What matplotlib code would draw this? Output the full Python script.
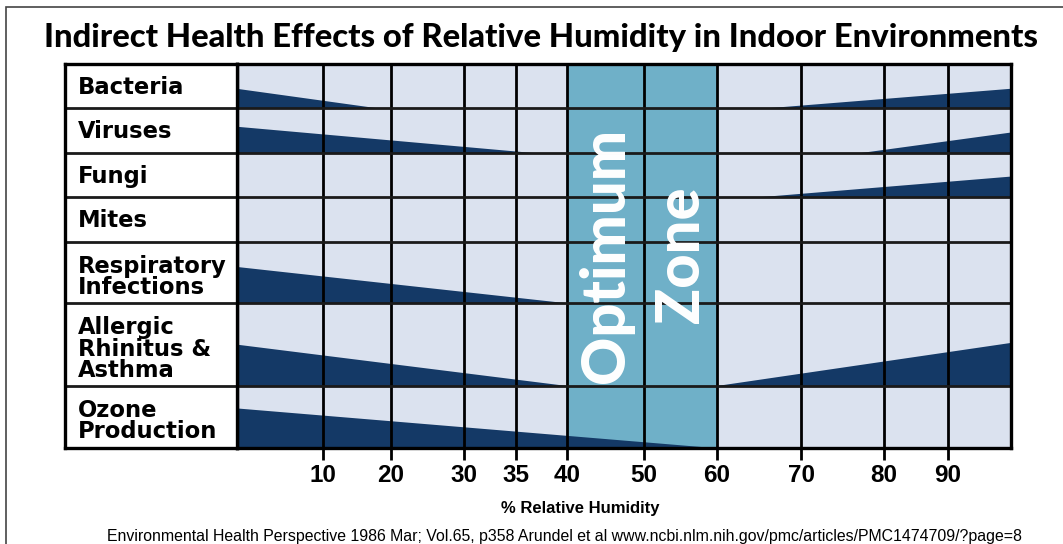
import numpy as np
import matplotlib.pyplot as plt
from matplotlib.patches import Rectangle

# ---- data ----
effects = [["Bacteria"], ["Viruses"], ["Fungi"], ["Mites"],
           ["Respiratory", "Infections"],
           ["Allergic", "Rhinitus &", "Asthma"],
           ["Ozone", "Production"]]
# dry side: share of the row covered at 0 % RH and the RH where the wedge runs out
low_level = [0.44, 0.59, None, None, 0.59, 0.50, 0.64]
low_end = [18, 37, None, None, 40, 40, 60]
# humid side: RH where the wedge starts and the share of the row covered at 100 % RH
high_start = [66, 77, 65, None, None, 60, None]
high_level = [0.44, 0.46, 0.47, None, None, 0.52, None]
rh_ticks = [10, 20, 30, 35, 40, 50, 60, 70, 80, 90]
optimum = (40, 60)

title = "Indirect Health Effects of Relative Humidity in Indoor Environments"
source = ("Environmental Health Perspective 1986 Mar; Vol.65, p358 Arundel et al "
          "www.ncbi.nlm.nih.gov/pmc/articles/PMC1474709/?page=8")

# ---- layout (pixels of the 1063x544 picture) ----
W, H = 1063, 544
row_px = [44.3, 45, 44, 44.4, 61.6, 82.7, 62.3]
# the printed scale is hand spaced, so map RH -> pixel position piecewise
knot_rh = [-100, 0, 10, 20, 30, 35, 40, 50, 60, 70, 80, 90, 100, 200]
knot_px = [-623, 237, 323, 391, 464, 516, 567, 644, 717, 801, 884, 948, 1010.5, 1635]

light = "#dbe2ef"
navy = "#143966"
teal = "#6fb0c8"


def fwd(x):
    return np.interp(x, knot_rh, knot_px)


def inv(p):
    return np.interp(p, knot_px, knot_rh)


fig = plt.figure(figsize=(W / 100, H / 100), dpi=100)
fig.patch.set_facecolor("white")

total = sum(row_px)
bottom = 1 - (64 + total) / H
height = total / H

ax = fig.add_axes([237 / W, bottom, (1010.5 - 237) / W, height])
ax.set_xscale("function", functions=(fwd, inv))
ax.set_xlim(0, 100)
ax.set_ylim(total, 0)
ax.set_facecolor(light)

row_tops = np.concatenate([[0], np.cumsum(row_px)[:-1]])

ax.axvspan(*optimum, color=teal, zorder=1, lw=0)

for i, (t, h) in enumerate(zip(row_tops, row_px)):
    b = t + h
    if low_level[i] is not None:
        ax.fill([0, low_end[i], 0], [b, b, b - low_level[i] * h],
                color=navy, lw=0, zorder=2)
    if high_level[i] is not None:
        ax.fill([high_start[i], 100, 100], [b, b - high_level[i] * h, b],
                color=navy, lw=0, zorder=2)

for x in rh_ticks:
    ax.axvline(x, color="black", lw=2, zorder=3)
for y in np.cumsum(row_px)[:-1]:
    ax.axhline(y, color="#1a1a1a", lw=2, zorder=3)

for s in ax.spines.values():
    s.set_linewidth(2.4)
    s.set_zorder(4)

ax.set_xticks(rh_ticks)
ax.set_xticklabels([str(v) for v in rh_ticks], fontfamily="Liberation Sans",
                   fontweight="bold", fontsize=17.5)
ax.tick_params(axis="x", length=8.5, width=2, direction="out", pad=3)
ax.tick_params(axis="y", left=False, labelleft=False)
ax.xaxis.set_minor_locator(plt.NullLocator())

ax.text(45, 191, "Optimum", rotation=90, ha="center", va="center",
        color="white", fontsize=43, fontfamily="Lato", fontweight="black", zorder=5)
ax.text(55, 191, "Zone", rotation=90, ha="center", va="center",
        color="white", fontsize=43, fontfamily="Lato", fontweight="black", zorder=5)

# label column
lab = fig.add_axes([65 / W, bottom, (237 - 65) / W, height])
lab.set_xlim(0, 1)
lab.set_ylim(total, 0)
lab.set_facecolor("white")
lab.set_xticks([])
lab.set_yticks([])
for s in lab.spines.values():
    s.set_linewidth(2.4)
for y in np.cumsum(row_px)[:-1]:
    lab.axhline(y, color="#1a1a1a", lw=2)
pitch = 21.5
for lines, t in zip(effects, row_tops):
    first = t + (29.5 if len(lines) == 1 else 31)
    for k, line in enumerate(lines):
        lab.text(13 / 172, first + k * pitch, line, transform=lab.get_yaxis_transform(),
                 ha="left", va="baseline", fontfamily="DejaVu Sans",
                 fontweight="bold", fontsize=16.3)

fig.text(541 / W, 1 - 46.7 / H, title, ha="center", va="baseline",
         fontfamily="Lato", fontweight="black", fontsize=23.6)
fig.text(580 / W, 1 - 513 / H, "% Relative Humidity", ha="center", va="baseline",
         fontfamily="Liberation Sans", fontweight="bold", fontsize=12)
fig.text(564 / W, 1 - 541 / H, source, ha="center", va="baseline",
         fontfamily="Liberation Sans", fontsize=11.45)

fig.add_artist(Rectangle((6 / W, -0.1), 1.2, 1.1 - 7 / H, transform=fig.transFigure,
                         fill=False, ec="#444444", lw=1.2))

fig.savefig("out.png", dpi=100)
